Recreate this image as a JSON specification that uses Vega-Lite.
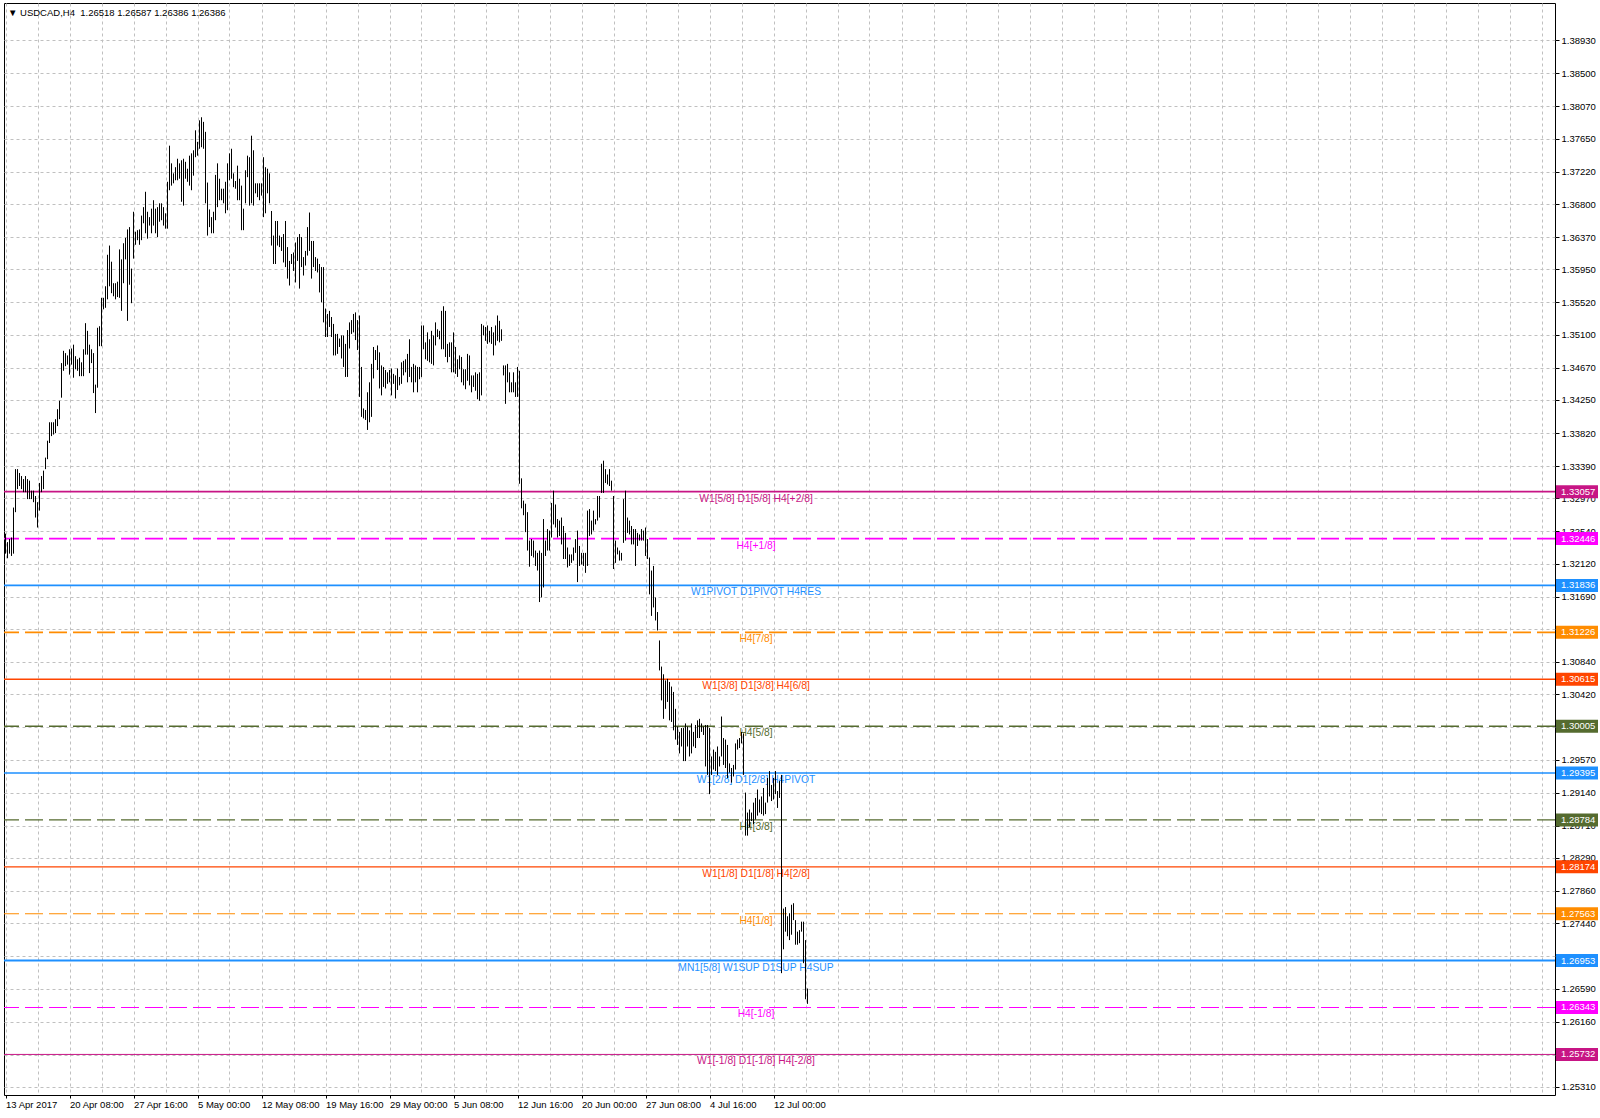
{
"$schema": "https://vega.github.io/schema/vega-lite/v6.json",
"width": 1551, "height": 1092,
"autosize": {"type": "none"},
"padding": {"left": 4, "top": 3, "right": 45, "bottom": 23},
"background": "white",
"config": {
"view": {"stroke": "black", "strokeWidth": 1},
"font": "Liberation Sans",
"axis": {"title": null, "grid": true, "gridColor": "#C0C0C0", "gridDash": [3,3], "gridWidth": 1, "domain": false, "tickColor": "black", "labelFont": "Liberation Sans", "labelFontSize": 9.5, "labelColor": "black", "labelFlush": false, "labelOverlap": false, "labelBound": false},
"axisY": {"labelOverlap": false},
"axisRight": {"labelOverlap": false}
},
"title": {"text": "▼ USDCAD,H4\u00a0\u00a01.26518 1.26587 1.26386 1.26386", "anchor": "start", "frame": "group", "orient": "top", "offset": -22.5, "dx": 4, "fontSize": 9.5, "fontWeight": "normal", "font": "Liberation Sans", "color": "black", "baseline": "alphabetic"},
"datasets": {
"bars": [
{"i":0,"h":1.3251,"l":1.3225},{"i":1,"h":1.3240,"l":1.3219},{"i":2,"h":1.3244,"l":1.3225},{"i":3,"h":1.3246,"l":1.3222},{"i":4,"h":1.3285,"l":1.3225},{"i":5,"h":1.3335,"l":1.3279},{"i":6,"h":1.3335,"l":1.3309},{"i":7,"h":1.3330,"l":1.3313},{"i":8,"h":1.3326,"l":1.3309},{"i":9,"h":1.3322,"l":1.3305},
{"i":10,"h":1.3326,"l":1.3305},{"i":11,"h":1.3322,"l":1.3296},{"i":12,"h":1.3320,"l":1.3296},{"i":13,"h":1.3307,"l":1.3296},{"i":14,"h":1.3307,"l":1.3292},{"i":15,"h":1.3300,"l":1.3272},{"i":16,"h":1.3292,"l":1.3259},{"i":17,"h":1.3317,"l":1.3281},{"i":18,"h":1.3326,"l":1.3305},{"i":19,"h":1.3333,"l":1.3309},
{"i":20,"h":1.3350,"l":1.3335},{"i":21,"h":1.3372,"l":1.3348},{"i":22,"h":1.3396,"l":1.3369},{"i":23,"h":1.3396,"l":1.3378},{"i":24,"h":1.3396,"l":1.3380},{"i":25,"h":1.3400,"l":1.3382},{"i":26,"h":1.3413,"l":1.3391},{"i":27,"h":1.3424,"l":1.3400},{"i":28,"h":1.3473,"l":1.3428},{"i":29,"h":1.3489,"l":1.3463},
{"i":30,"h":1.3486,"l":1.3469},{"i":31,"h":1.3483,"l":1.3471},{"i":32,"h":1.3491,"l":1.3458},{"i":33,"h":1.3492,"l":1.3471},{"i":34,"h":1.3497,"l":1.3454},{"i":35,"h":1.3482,"l":1.3465},{"i":36,"h":1.3478,"l":1.3463},{"i":37,"h":1.3480,"l":1.3456},{"i":38,"h":1.3474,"l":1.3456},{"i":39,"h":1.3491,"l":1.3456},
{"i":40,"h":1.3525,"l":1.3484},{"i":41,"h":1.3515,"l":1.3484},{"i":42,"h":1.3497,"l":1.3460},{"i":43,"h":1.3491,"l":1.3473},{"i":44,"h":1.3486,"l":1.3434},{"i":45,"h":1.3445,"l":1.3408},{"i":46,"h":1.3519,"l":1.3441},{"i":47,"h":1.3521,"l":1.3495},{"i":48,"h":1.3558,"l":1.3495},{"i":49,"h":1.3558,"l":1.3543},
{"i":50,"h":1.3573,"l":1.3545},{"i":51,"h":1.3614,"l":1.3556},{"i":52,"h":1.3626,"l":1.3573},{"i":53,"h":1.3605,"l":1.3564},{"i":54,"h":1.3577,"l":1.3560},{"i":55,"h":1.3577,"l":1.3556},{"i":56,"h":1.3579,"l":1.3559},{"i":57,"h":1.3621,"l":1.3558},{"i":58,"h":1.3608,"l":1.3541},{"i":59,"h":1.3629,"l":1.3577},
{"i":60,"h":1.3636,"l":1.3608},{"i":61,"h":1.3647,"l":1.3528},{"i":62,"h":1.3650,"l":1.3575},{"i":63,"h":1.3596,"l":1.3551},{"i":64,"h":1.3670,"l":1.3609},{"i":65,"h":1.3644,"l":1.3627},{"i":66,"h":1.3646,"l":1.3633},{"i":67,"h":1.3647,"l":1.3627},{"i":68,"h":1.3665,"l":1.3633},{"i":69,"h":1.3676,"l":1.3655},
{"i":70,"h":1.3696,"l":1.3642},{"i":71,"h":1.3670,"l":1.3635},{"i":72,"h":1.3663,"l":1.3652},{"i":73,"h":1.3674,"l":1.3642},{"i":74,"h":1.3685,"l":1.3652},{"i":75,"h":1.3674,"l":1.3642},{"i":76,"h":1.3676,"l":1.3637},{"i":77,"h":1.3681,"l":1.3657},{"i":78,"h":1.3681,"l":1.3659},{"i":79,"h":1.3676,"l":1.3652},
{"i":80,"h":1.3668,"l":1.3648},{"i":81,"h":1.3709,"l":1.3648},{"i":82,"h":1.3756,"l":1.3698},{"i":83,"h":1.3733,"l":1.3704},{"i":84,"h":1.3720,"l":1.3707},{"i":85,"h":1.3728,"l":1.3711},{"i":86,"h":1.3739,"l":1.3711},{"i":87,"h":1.3733,"l":1.3713},{"i":88,"h":1.3737,"l":1.3683},{"i":89,"h":1.3739,"l":1.3678},
{"i":90,"h":1.3735,"l":1.3713},{"i":91,"h":1.3726,"l":1.3709},{"i":92,"h":1.3743,"l":1.3704},{"i":93,"h":1.3746,"l":1.3698},{"i":94,"h":1.3750,"l":1.3717},{"i":95,"h":1.3776,"l":1.3741},{"i":96,"h":1.3761,"l":1.3743},{"i":97,"h":1.3789,"l":1.3752},{"i":98,"h":1.3793,"l":1.3754},{"i":99,"h":1.3787,"l":1.3752},
{"i":100,"h":1.3774,"l":1.3681},{"i":101,"h":1.3708,"l":1.3639},{"i":102,"h":1.3673,"l":1.3650},{"i":103,"h":1.3663,"l":1.3642},{"i":104,"h":1.3670,"l":1.3642},{"i":105,"h":1.3718,"l":1.3659},{"i":106,"h":1.3733,"l":1.3676},{"i":107,"h":1.3713,"l":1.3685},{"i":108,"h":1.3700,"l":1.3685},{"i":109,"h":1.3700,"l":1.3681},
{"i":110,"h":1.3709,"l":1.3668},{"i":111,"h":1.3733,"l":1.3672},{"i":112,"h":1.3746,"l":1.3711},{"i":113,"h":1.3752,"l":1.3713},{"i":114,"h":1.3720,"l":1.3702},{"i":115,"h":1.3710,"l":1.3700},{"i":116,"h":1.3730,"l":1.3685},{"i":117,"h":1.3713,"l":1.3685},{"i":118,"h":1.3704,"l":1.3646},{"i":119,"h":1.3674,"l":1.3646},
{"i":120,"h":1.3724,"l":1.3681},{"i":121,"h":1.3743,"l":1.3715},{"i":122,"h":1.3741,"l":1.3678},{"i":123,"h":1.3769,"l":1.3681},{"i":124,"h":1.3750,"l":1.3678},{"i":125,"h":1.3707,"l":1.3694},{"i":126,"h":1.3707,"l":1.3689},{"i":127,"h":1.3707,"l":1.3685},{"i":128,"h":1.3707,"l":1.3691},{"i":129,"h":1.3741,"l":1.3663},
{"i":130,"h":1.3728,"l":1.3668},{"i":131,"h":1.3726,"l":1.3694},{"i":132,"h":1.3720,"l":1.3681},{"i":133,"h":1.3671,"l":1.3626},{"i":134,"h":1.3639,"l":1.3602},{"i":135,"h":1.3658,"l":1.3602},{"i":136,"h":1.3658,"l":1.3626},{"i":137,"h":1.3639,"l":1.3624},{"i":138,"h":1.3637,"l":1.3619},{"i":139,"h":1.3641,"l":1.3604},
{"i":140,"h":1.3658,"l":1.3598},{"i":141,"h":1.3624,"l":1.3583},{"i":142,"h":1.3606,"l":1.3574},{"i":143,"h":1.3615,"l":1.3602},{"i":144,"h":1.3617,"l":1.3593},{"i":145,"h":1.3630,"l":1.3578},{"i":146,"h":1.3637,"l":1.3606},{"i":147,"h":1.3641,"l":1.3570},{"i":148,"h":1.3637,"l":1.3598},{"i":149,"h":1.3611,"l":1.3587},
{"i":150,"h":1.3619,"l":1.3600},{"i":151,"h":1.3650,"l":1.3613},{"i":152,"h":1.3669,"l":1.3619},{"i":153,"h":1.3632,"l":1.3583},{"i":154,"h":1.3632,"l":1.3598},{"i":155,"h":1.3611,"l":1.3593},{"i":156,"h":1.3609,"l":1.3591},{"i":157,"h":1.3602,"l":1.3565},{"i":158,"h":1.3598,"l":1.3552},{"i":159,"h":1.3598,"l":1.3526},
{"i":160,"h":1.3544,"l":1.3507},{"i":161,"h":1.3537,"l":1.3507},{"i":162,"h":1.3541,"l":1.3520},{"i":163,"h":1.3533,"l":1.3507},{"i":164,"h":1.3524,"l":1.3483},{"i":165,"h":1.3511,"l":1.3483},{"i":166,"h":1.3511,"l":1.3485},{"i":167,"h":1.3505,"l":1.3494},{"i":168,"h":1.3509,"l":1.3479},{"i":169,"h":1.3509,"l":1.3468},
{"i":170,"h":1.3498,"l":1.3455},{"i":171,"h":1.3516,"l":1.3455},{"i":172,"h":1.3526,"l":1.3492},{"i":173,"h":1.3529,"l":1.3511},{"i":174,"h":1.3537,"l":1.3513},{"i":175,"h":1.3539,"l":1.3503},{"i":176,"h":1.3529,"l":1.3490},{"i":177,"h":1.3535,"l":1.3429},{"i":178,"h":1.3468,"l":1.3403},{"i":179,"h":1.3414,"l":1.3401},
{"i":180,"h":1.3412,"l":1.3399},{"i":181,"h":1.3435,"l":1.3386},{"i":182,"h":1.3448,"l":1.3396},{"i":183,"h":1.3472,"l":1.3403},{"i":184,"h":1.3494,"l":1.3453},{"i":185,"h":1.3490,"l":1.3477},{"i":186,"h":1.3496,"l":1.3464},{"i":187,"h":1.3487,"l":1.3440},{"i":188,"h":1.3470,"l":1.3431},{"i":189,"h":1.3468,"l":1.3442},
{"i":190,"h":1.3464,"l":1.3440},{"i":191,"h":1.3461,"l":1.3446},{"i":192,"h":1.3464,"l":1.3448},{"i":193,"h":1.3466,"l":1.3431},{"i":194,"h":1.3459,"l":1.3446},{"i":195,"h":1.3457,"l":1.3427},{"i":196,"h":1.3466,"l":1.3438},{"i":197,"h":1.3455,"l":1.3444},{"i":198,"h":1.3474,"l":1.3446},{"i":199,"h":1.3476,"l":1.3457},
{"i":200,"h":1.3478,"l":1.3461},{"i":201,"h":1.3485,"l":1.3448},{"i":202,"h":1.3504,"l":1.3455},{"i":203,"h":1.3468,"l":1.3448},{"i":204,"h":1.3472,"l":1.3435},{"i":205,"h":1.3470,"l":1.3448},{"i":206,"h":1.3468,"l":1.3435},{"i":207,"h":1.3468,"l":1.3452},{"i":208,"h":1.3522,"l":1.3455},{"i":209,"h":1.3522,"l":1.3491},
{"i":210,"h":1.3500,"l":1.3478},{"i":211,"h":1.3513,"l":1.3476},{"i":212,"h":1.3504,"l":1.3474},{"i":213,"h":1.3515,"l":1.3472},{"i":214,"h":1.3509,"l":1.3470},{"i":215,"h":1.3526,"l":1.3496},{"i":216,"h":1.3517,"l":1.3507},{"i":217,"h":1.3515,"l":1.3504},{"i":218,"h":1.3541,"l":1.3491},{"i":219,"h":1.3547,"l":1.3491},
{"i":220,"h":1.3541,"l":1.3481},{"i":221,"h":1.3498,"l":1.3474},{"i":222,"h":1.3500,"l":1.3481},{"i":223,"h":1.3500,"l":1.3461},{"i":224,"h":1.3513,"l":1.3461},{"i":225,"h":1.3494,"l":1.3459},{"i":226,"h":1.3478,"l":1.3455},{"i":227,"h":1.3483,"l":1.3465},{"i":228,"h":1.3481,"l":1.3448},{"i":229,"h":1.3465,"l":1.3444},
{"i":230,"h":1.3465,"l":1.3439},{"i":231,"h":1.3485,"l":1.3450},{"i":232,"h":1.3483,"l":1.3444},{"i":233,"h":1.3457,"l":1.3435},{"i":234,"h":1.3457,"l":1.3442},{"i":235,"h":1.3461,"l":1.3437},{"i":236,"h":1.3459,"l":1.3426},{"i":237,"h":1.3461,"l":1.3424},{"i":238,"h":1.3524,"l":1.3431},{"i":239,"h":1.3522,"l":1.3509},
{"i":240,"h":1.3520,"l":1.3502},{"i":241,"h":1.3522,"l":1.3498},{"i":242,"h":1.3515,"l":1.3500},{"i":243,"h":1.3520,"l":1.3498},{"i":244,"h":1.3513,"l":1.3483},{"i":245,"h":1.3522,"l":1.3496},{"i":246,"h":1.3535,"l":1.3502},{"i":247,"h":1.3528,"l":1.3500},{"i":248,"h":1.3517,"l":1.3502},{"i":249,"h":1.3470,"l":1.3457},
{"i":250,"h":1.3470,"l":1.3420},{"i":251,"h":1.3472,"l":1.3448},{"i":252,"h":1.3461,"l":1.3435},{"i":253,"h":1.3448,"l":1.3435},{"i":254,"h":1.3461,"l":1.3435},{"i":255,"h":1.3448,"l":1.3429},{"i":256,"h":1.3468,"l":1.3429},{"i":257,"h":1.3463,"l":1.3316},{"i":258,"h":1.3323,"l":1.3284},{"i":259,"h":1.3294,"l":1.3275},
{"i":260,"h":1.3290,"l":1.3253},{"i":261,"h":1.3279,"l":1.3229},{"i":262,"h":1.3242,"l":1.3208},{"i":263,"h":1.3244,"l":1.3222},{"i":264,"h":1.3242,"l":1.3220},{"i":265,"h":1.3229,"l":1.3209},{"i":266,"h":1.3226,"l":1.3203},{"i":267,"h":1.3229,"l":1.3162},{"i":268,"h":1.3226,"l":1.3168},{"i":269,"h":1.3270,"l":1.3181},
{"i":270,"h":1.3242,"l":1.3222},{"i":271,"h":1.3257,"l":1.3229},{"i":272,"h":1.3255,"l":1.3229},{"i":273,"h":1.3291,"l":1.3246},{"i":274,"h":1.3307,"l":1.3263},{"i":275,"h":1.3289,"l":1.3259},{"i":276,"h":1.3270,"l":1.3246},{"i":277,"h":1.3268,"l":1.3248},{"i":278,"h":1.3272,"l":1.3237},{"i":279,"h":1.3261,"l":1.3218},
{"i":280,"h":1.3252,"l":1.3218},{"i":281,"h":1.3233,"l":1.3207},{"i":282,"h":1.3224,"l":1.3209},{"i":283,"h":1.3224,"l":1.3213},{"i":284,"h":1.3233,"l":1.3216},{"i":285,"h":1.3244,"l":1.3226},{"i":286,"h":1.3255,"l":1.3188},{"i":287,"h":1.3235,"l":1.3209},{"i":288,"h":1.3226,"l":1.3211},{"i":289,"h":1.3226,"l":1.3209},
{"i":290,"h":1.3226,"l":1.3200},{"i":291,"h":1.3281,"l":1.3209},{"i":292,"h":1.3283,"l":1.3248},{"i":293,"h":1.3268,"l":1.3250},{"i":294,"h":1.3281,"l":1.3255},{"i":295,"h":1.3270,"l":1.3263},{"i":296,"h":1.3300,"l":1.3268},{"i":297,"h":1.3300,"l":1.3272},{"i":298,"h":1.3342,"l":1.3304},{"i":299,"h":1.3346,"l":1.3304},
{"i":300,"h":1.3335,"l":1.3317},{"i":301,"h":1.3328,"l":1.3315},{"i":302,"h":1.3335,"l":1.3313},{"i":303,"h":1.3320,"l":1.3307},{"i":304,"h":1.3300,"l":1.3205},{"i":305,"h":1.3242,"l":1.3213},{"i":306,"h":1.3233,"l":1.3224},{"i":307,"h":1.3229,"l":1.3216},{"i":308,"h":1.3226,"l":1.3216},{"i":309,"h":1.3296,"l":1.3239},
{"i":310,"h":1.3307,"l":1.3242},{"i":311,"h":1.3272,"l":1.3252},{"i":312,"h":1.3268,"l":1.3250},{"i":313,"h":1.3261,"l":1.3237},{"i":314,"h":1.3257,"l":1.3237},{"i":315,"h":1.3257,"l":1.3209},{"i":316,"h":1.3252,"l":1.3235},{"i":317,"h":1.3250,"l":1.3242},{"i":318,"h":1.3257,"l":1.3242},{"i":319,"h":1.3255,"l":1.3242},
{"i":320,"h":1.3259,"l":1.3222},{"i":321,"h":1.3244,"l":1.3218},{"i":322,"h":1.3220,"l":1.3172},{"i":323,"h":1.3203,"l":1.3144},{"i":324,"h":1.3209,"l":1.3155},{"i":325,"h":1.3168,"l":1.3138},{"i":326,"h":1.3149,"l":1.3125},{"i":327,"h":1.3112,"l":1.3073},{"i":328,"h":1.3078,"l":1.3034},{"i":329,"h":1.3068,"l":1.3010},
{"i":330,"h":1.3060,"l":1.3023},{"i":331,"h":1.3062,"l":1.3032},{"i":332,"h":1.3058,"l":1.3008},{"i":333,"h":1.3052,"l":1.3006},{"i":334,"h":1.3045,"l":1.2995},{"i":335,"h":1.3023,"l":1.2983},{"i":336,"h":1.3000,"l":1.2976},{"i":337,"h":1.2993,"l":1.2965},{"i":338,"h":1.2998,"l":1.2974},{"i":339,"h":1.2998,"l":1.2955},
{"i":340,"h":1.3004,"l":1.2955},{"i":341,"h":1.3000,"l":1.2974},{"i":342,"h":1.2995,"l":1.2961},{"i":343,"h":1.3004,"l":1.2965},{"i":344,"h":1.2993,"l":1.2974},{"i":345,"h":1.3002,"l":1.2972},{"i":346,"h":1.3008,"l":1.2985},{"i":347,"h":1.3010,"l":1.2985},{"i":348,"h":1.3004,"l":1.2993},{"i":349,"h":1.3000,"l":1.2989},
{"i":350,"h":1.3002,"l":1.2948},{"i":351,"h":1.3002,"l":1.2937},{"i":352,"h":1.2998,"l":1.2912},{"i":353,"h":1.2961,"l":1.2937},{"i":354,"h":1.2970,"l":1.2944},{"i":355,"h":1.2967,"l":1.2942},{"i":356,"h":1.2974,"l":1.2937},{"i":357,"h":1.2961,"l":1.2948},{"i":358,"h":1.3013,"l":1.2961},{"i":359,"h":1.2985,"l":1.2950},
{"i":360,"h":1.2983,"l":1.2946},{"i":361,"h":1.2976,"l":1.2933},{"i":362,"h":1.2952,"l":1.2940},{"i":363,"h":1.2946,"l":1.2927},{"i":364,"h":1.2950,"l":1.2935},{"i":365,"h":1.2978,"l":1.2944},{"i":366,"h":1.2983,"l":1.2970},{"i":367,"h":1.2985,"l":1.2972},{"i":368,"h":1.2993,"l":1.2978},{"i":369,"h":1.2991,"l":1.2937},
{"i":370,"h":1.2914,"l":1.2858},{"i":371,"h":1.2888,"l":1.2858},{"i":372,"h":1.2892,"l":1.2869},{"i":373,"h":1.2888,"l":1.2877},{"i":374,"h":1.2901,"l":1.2873},{"i":375,"h":1.2907,"l":1.2879},{"i":376,"h":1.2918,"l":1.2884},{"i":377,"h":1.2905,"l":1.2888},{"i":378,"h":1.2909,"l":1.2886},{"i":379,"h":1.2920,"l":1.2884},
{"i":380,"h":1.2901,"l":1.2886},{"i":381,"h":1.2933,"l":1.2901},{"i":382,"h":1.2942,"l":1.2909},{"i":383,"h":1.2924,"l":1.2903},{"i":384,"h":1.2933,"l":1.2905},{"i":385,"h":1.2942,"l":1.2912},{"i":386,"h":1.2916,"l":1.2894},{"i":387,"h":1.2929,"l":1.2907},{"i":388,"h":1.2937,"l":1.2679},{"i":389,"h":1.2763,"l":1.2710},
{"i":390,"h":1.2765,"l":1.2733},{"i":391,"h":1.2753,"l":1.2727},{"i":392,"h":1.2757,"l":1.2722},{"i":393,"h":1.2768,"l":1.2729},{"i":394,"h":1.2770,"l":1.2748},{"i":395,"h":1.2748,"l":1.2716},{"i":396,"h":1.2733,"l":1.2716},{"i":397,"h":1.2735,"l":1.2718},{"i":398,"h":1.2746,"l":1.2733},{"i":399,"h":1.2746,"l":1.2692},
{"i":400,"h":1.2722,"l":1.2645},{"i":401,"h":1.2659,"l":1.2639}
],
"levels": [
{"price":1.33057,"label":"W1[5/8] D1[5/8] H4[+2/8]"},
{"price":1.32446,"label":"H4[+1/8]"},
{"price":1.31836,"label":"W1PIVOT D1PIVOT H4RES"},
{"price":1.31226,"label":"H4[7/8]"},
{"price":1.30615,"label":"W1[3/8] D1[3/8] H4[6/8]"},
{"price":1.30005,"label":"H4[5/8]"},
{"price":1.29395,"label":"W1[2/8] D1[2/8] H4PIVOT"},
{"price":1.28784,"label":"H4[3/8]"},
{"price":1.28174,"label":"W1[1/8] D1[1/8] H4[2/8]"},
{"price":1.27563,"label":"H4[1/8]"},
{"price":1.26953,"label":"MN1[5/8] W1SUP D1SUP H4SUP"},
{"price":1.26343,"label":"H4[-1/8]"},
{"price":1.25732,"label":"W1[-1/8] D1[-1/8] H4[-2/8]"}
]
},
"layer": [
{
"data": {"name": "bars"},
"mark": {"type": "rule", "color": "black", "strokeWidth": 1, "opacity": 0},
"encoding": {
"x": {"field": "i", "type": "quantitative", "scale": {"domain": [-0.75, 774.75], "nice": false, "zero": false},
"axis": {"values": [0,16,32,48,64,80,96,112,128,144,160,176,192,208,224,240,256,272,288,304,320,336,352,368,384,400,416,432,448,464,480,496,512,528,544,560,576,592,608,624,640,656,672,688,704,720,736,752,768],
"title": null, "grid": true, "gridColor": "#C0C0C0", "gridDash": [3,3], "domain": false,
"ticks": true, "tickSize": 3, "tickColor": "black",
"tickOpacity": {"condition": {"test": "datum.value % 32 === 0 && datum.value <= 384", "value": 1}, "value": 0},
"labelExpr": "(datum.value % 32 === 0 && datum.value <= 384) ? ['13 Apr 2017','20 Apr 08:00','27 Apr 16:00','5 May 00:00','12 May 08:00','19 May 16:00','29 May 00:00','5 Jun 08:00','12 Jun 16:00','20 Jun 00:00','27 Jun 08:00','4 Jul 16:00','12 Jul 00:00'][datum.value / 32] : ''",
"labelAlign": "left", "labelBaseline": "top", "labelPadding": 1, "labelFlush": false, "labelOverlap": false, "labelBound": false}},
"y": {"field": "h", "type": "quantitative", "scale": {"domain": [1.25269, 1.39352], "nice": false, "zero": false},
"axis": {"orient": "right", "values": [1.3893,1.385,1.3807,1.3765,1.3722,1.368,1.3637,1.3595,1.3552,1.351,1.3467,1.3425,1.3382,1.3339,1.3297,1.3254,1.3212,1.3169,1.3127,1.3084,1.3042,1.2999,1.2957,1.2914,1.2871,1.2829,1.2786,1.2744,1.2701,1.2659,1.2616,1.2573,1.2531],
"title": null, "format": ".5f", "grid": true, "gridColor": "#C0C0C0", "gridDash": [3,3], "domain": false,
"tickSize": 4, "tickColor": "black", "labelPadding": 2, "labelFlush": false, "labelOverlap": false, "labelBound": false, "labelSeparation": 0}},
"y2": {"field": "l"}
}
},
{
"data": {"name": "levels"},
"mark": {"type": "rule"},
"encoding": {
"y": {"field": "price", "type": "quantitative", "scale": {"domain": [1.25269, 1.39352], "nice": false, "zero": false},
"axis": {"orient": "right", "values": [1.3893,1.385,1.3807,1.3765,1.3722,1.368,1.3637,1.3595,1.3552,1.351,1.3467,1.3425,1.3382,1.3339,1.3297,1.3254,1.3212,1.3169,1.3127,1.3084,1.3042,1.2999,1.2957,1.2914,1.2871,1.2829,1.2786,1.2744,1.2701,1.2659,1.2616,1.2573,1.2531],
"title": null, "format": ".5f", "grid": true, "gridColor": "#C0C0C0", "gridDash": [3,3], "domain": false,
"tickSize": 4, "tickColor": "black", "labelPadding": 2, "labelFlush": false, "labelOverlap": false, "labelBound": false, "labelSeparation": 0}},
"color": {"field": "label", "type": "nominal", "legend": null, "scale": {"domain": ["W1[5/8] D1[5/8] H4[+2/8]","H4[+1/8]","W1PIVOT D1PIVOT H4RES","H4[7/8]","W1[3/8] D1[3/8] H4[6/8]","H4[5/8]","W1[2/8] D1[2/8] H4PIVOT","H4[3/8]","W1[1/8] D1[1/8] H4[2/8]","H4[1/8]","MN1[5/8] W1SUP D1SUP H4SUP","H4[-1/8]","W1[-1/8] D1[-1/8] H4[-2/8]"], "range": ["#C71585","#FF00FF","#1E90FF","#FF8C00","#FF4500","#556B2F","#1E90FF","#556B2F","#FF4500","#FF8C00","#1E90FF","#FF00FF","#C71585"]}},
"strokeDash": {"field": "label", "type": "nominal", "legend": null, "scale": {"domain": ["W1[5/8] D1[5/8] H4[+2/8]","H4[+1/8]","W1PIVOT D1PIVOT H4RES","H4[7/8]","W1[3/8] D1[3/8] H4[6/8]","H4[5/8]","W1[2/8] D1[2/8] H4PIVOT","H4[3/8]","W1[1/8] D1[1/8] H4[2/8]","H4[1/8]","MN1[5/8] W1SUP D1SUP H4SUP","H4[-1/8]","W1[-1/8] D1[-1/8] H4[-2/8]"], "range": [[1,0],[18,6],[1,0],[18,6],[1,0],[18,6],[1,0],[18,6],[1,0],[18,6],[1,0],[18,6],[1,0]]}},
"strokeWidth": {"field": "label", "type": "nominal", "legend": null, "scale": {"domain": ["MN1[5/8] W1SUP D1SUP H4SUP","W1[5/8] D1[5/8] H4[+2/8]","H4[+1/8]","W1PIVOT D1PIVOT H4RES","H4[7/8]","W1[3/8] D1[3/8] H4[6/8]","H4[5/8]","W1[2/8] D1[2/8] H4PIVOT","H4[3/8]","W1[1/8] D1[1/8] H4[2/8]","H4[1/8]","H4[-1/8]","W1[-1/8] D1[-1/8] H4[-2/8]"], "range": [2,1,1,1,1,1,1,1,1,1,1,1,1]}}
}
},
{
"data": {"name": "levels"},
"mark": {"type": "text", "align": "center", "baseline": "top", "dy": 2, "font": "Liberation Sans", "fontSize": 10.3},
"encoding": {
"x": {"datum": 375.25, "type": "quantitative", "scale": {"domain": [-0.75, 774.75], "nice": false, "zero": false},
"axis": {"values": [0,16,32,48,64,80,96,112,128,144,160,176,192,208,224,240,256,272,288,304,320,336,352,368,384,400,416,432,448,464,480,496,512,528,544,560,576,592,608,624,640,656,672,688,704,720,736,752,768],
"title": null, "grid": true, "gridColor": "#C0C0C0", "gridDash": [3,3], "domain": false,
"ticks": true, "tickSize": 3, "tickColor": "black",
"tickOpacity": {"condition": {"test": "datum.value % 32 === 0 && datum.value <= 384", "value": 1}, "value": 0},
"labelExpr": "(datum.value % 32 === 0 && datum.value <= 384) ? ['13 Apr 2017','20 Apr 08:00','27 Apr 16:00','5 May 00:00','12 May 08:00','19 May 16:00','29 May 00:00','5 Jun 08:00','12 Jun 16:00','20 Jun 00:00','27 Jun 08:00','4 Jul 16:00','12 Jul 00:00'][datum.value / 32] : ''",
"labelAlign": "left", "labelBaseline": "top", "labelPadding": 1, "labelFlush": false, "labelOverlap": false, "labelBound": false}},
"y": {"field": "price", "type": "quantitative", "scale": {"domain": [1.25269, 1.39352], "nice": false, "zero": false},
"axis": {"orient": "right", "values": [1.3893,1.385,1.3807,1.3765,1.3722,1.368,1.3637,1.3595,1.3552,1.351,1.3467,1.3425,1.3382,1.3339,1.3297,1.3254,1.3212,1.3169,1.3127,1.3084,1.3042,1.2999,1.2957,1.2914,1.2871,1.2829,1.2786,1.2744,1.2701,1.2659,1.2616,1.2573,1.2531],
"title": null, "format": ".5f", "grid": true, "gridColor": "#C0C0C0", "gridDash": [3,3], "domain": false,
"tickSize": 4, "tickColor": "black", "labelPadding": 2, "labelFlush": false, "labelOverlap": false, "labelBound": false, "labelSeparation": 0}},
"text": {"field": "label"},
"color": {"field": "label", "type": "nominal", "legend": null}
}
},
{
"data": {"name": "bars"},
"mark": {"type": "rule", "color": "black", "strokeWidth": 1},
"encoding": {
"x": {"field": "i", "type": "quantitative", "scale": {"domain": [-0.75, 774.75], "nice": false, "zero": false},
"axis": {"values": [0,16,32,48,64,80,96,112,128,144,160,176,192,208,224,240,256,272,288,304,320,336,352,368,384,400,416,432,448,464,480,496,512,528,544,560,576,592,608,624,640,656,672,688,704,720,736,752,768],
"title": null, "grid": true, "gridColor": "#C0C0C0", "gridDash": [3,3], "domain": false,
"ticks": true, "tickSize": 3, "tickColor": "black",
"tickOpacity": {"condition": {"test": "datum.value % 32 === 0 && datum.value <= 384", "value": 1}, "value": 0},
"labelExpr": "(datum.value % 32 === 0 && datum.value <= 384) ? ['13 Apr 2017','20 Apr 08:00','27 Apr 16:00','5 May 00:00','12 May 08:00','19 May 16:00','29 May 00:00','5 Jun 08:00','12 Jun 16:00','20 Jun 00:00','27 Jun 08:00','4 Jul 16:00','12 Jul 00:00'][datum.value / 32] : ''",
"labelAlign": "left", "labelBaseline": "top", "labelPadding": 1, "labelFlush": false, "labelOverlap": false, "labelBound": false}},
"y": {"field": "h", "type": "quantitative", "scale": {"domain": [1.25269, 1.39352], "nice": false, "zero": false},
"axis": {"orient": "right", "values": [1.3893,1.385,1.3807,1.3765,1.3722,1.368,1.3637,1.3595,1.3552,1.351,1.3467,1.3425,1.3382,1.3339,1.3297,1.3254,1.3212,1.3169,1.3127,1.3084,1.3042,1.2999,1.2957,1.2914,1.2871,1.2829,1.2786,1.2744,1.2701,1.2659,1.2616,1.2573,1.2531],
"title": null, "format": ".5f", "grid": true, "gridColor": "#C0C0C0", "gridDash": [3,3], "domain": false,
"tickSize": 4, "tickColor": "black", "labelPadding": 2, "labelFlush": false, "labelOverlap": false, "labelBound": false, "labelSeparation": 0}},
"y2": {"field": "l"}
}
},
{
"data": {"name": "levels"},
"mark": {"type": "bar", "orient": "horizontal", "size": 13},
"encoding": {
"x": {"datum": 775.25, "type": "quantitative", "scale": {"domain": [-0.75, 774.75], "nice": false, "zero": false},
"axis": {"values": [0,16,32,48,64,80,96,112,128,144,160,176,192,208,224,240,256,272,288,304,320,336,352,368,384,400,416,432,448,464,480,496,512,528,544,560,576,592,608,624,640,656,672,688,704,720,736,752,768],
"title": null, "grid": true, "gridColor": "#C0C0C0", "gridDash": [3,3], "domain": false,
"ticks": true, "tickSize": 3, "tickColor": "black",
"tickOpacity": {"condition": {"test": "datum.value % 32 === 0 && datum.value <= 384", "value": 1}, "value": 0},
"labelExpr": "(datum.value % 32 === 0 && datum.value <= 384) ? ['13 Apr 2017','20 Apr 08:00','27 Apr 16:00','5 May 00:00','12 May 08:00','19 May 16:00','29 May 00:00','5 Jun 08:00','12 Jun 16:00','20 Jun 00:00','27 Jun 08:00','4 Jul 16:00','12 Jul 00:00'][datum.value / 32] : ''",
"labelAlign": "left", "labelBaseline": "top", "labelPadding": 1, "labelFlush": false, "labelOverlap": false, "labelBound": false}},
"x2": {"datum": 796.25},
"y": {"field": "price", "type": "quantitative", "scale": {"domain": [1.25269, 1.39352], "nice": false, "zero": false},
"axis": {"orient": "right", "values": [1.3893,1.385,1.3807,1.3765,1.3722,1.368,1.3637,1.3595,1.3552,1.351,1.3467,1.3425,1.3382,1.3339,1.3297,1.3254,1.3212,1.3169,1.3127,1.3084,1.3042,1.2999,1.2957,1.2914,1.2871,1.2829,1.2786,1.2744,1.2701,1.2659,1.2616,1.2573,1.2531],
"title": null, "format": ".5f", "grid": true, "gridColor": "#C0C0C0", "gridDash": [3,3], "domain": false,
"tickSize": 4, "tickColor": "black", "labelPadding": 2, "labelFlush": false, "labelOverlap": false, "labelBound": false, "labelSeparation": 0}},
"color": {"field": "label", "type": "nominal", "legend": null}
}
},
{
"data": {"name": "levels"},
"mark": {"type": "text", "align": "left", "baseline": "middle", "font": "Liberation Sans", "fontSize": 9.5, "color": "white"},
"encoding": {
"x": {"datum": 777.75, "type": "quantitative", "scale": {"domain": [-0.75, 774.75], "nice": false, "zero": false},
"axis": {"values": [0,16,32,48,64,80,96,112,128,144,160,176,192,208,224,240,256,272,288,304,320,336,352,368,384,400,416,432,448,464,480,496,512,528,544,560,576,592,608,624,640,656,672,688,704,720,736,752,768],
"title": null, "grid": true, "gridColor": "#C0C0C0", "gridDash": [3,3], "domain": false,
"ticks": true, "tickSize": 3, "tickColor": "black",
"tickOpacity": {"condition": {"test": "datum.value % 32 === 0 && datum.value <= 384", "value": 1}, "value": 0},
"labelExpr": "(datum.value % 32 === 0 && datum.value <= 384) ? ['13 Apr 2017','20 Apr 08:00','27 Apr 16:00','5 May 00:00','12 May 08:00','19 May 16:00','29 May 00:00','5 Jun 08:00','12 Jun 16:00','20 Jun 00:00','27 Jun 08:00','4 Jul 16:00','12 Jul 00:00'][datum.value / 32] : ''",
"labelAlign": "left", "labelBaseline": "top", "labelPadding": 1, "labelFlush": false, "labelOverlap": false, "labelBound": false}},
"y": {"field": "price", "type": "quantitative", "scale": {"domain": [1.25269, 1.39352], "nice": false, "zero": false},
"axis": {"orient": "right", "values": [1.3893,1.385,1.3807,1.3765,1.3722,1.368,1.3637,1.3595,1.3552,1.351,1.3467,1.3425,1.3382,1.3339,1.3297,1.3254,1.3212,1.3169,1.3127,1.3084,1.3042,1.2999,1.2957,1.2914,1.2871,1.2829,1.2786,1.2744,1.2701,1.2659,1.2616,1.2573,1.2531],
"title": null, "format": ".5f", "grid": true, "gridColor": "#C0C0C0", "gridDash": [3,3], "domain": false,
"tickSize": 4, "tickColor": "black", "labelPadding": 2, "labelFlush": false, "labelOverlap": false, "labelBound": false, "labelSeparation": 0}},
"text": {"field": "price", "type": "quantitative", "format": ".5f"}
}
}
]
}
